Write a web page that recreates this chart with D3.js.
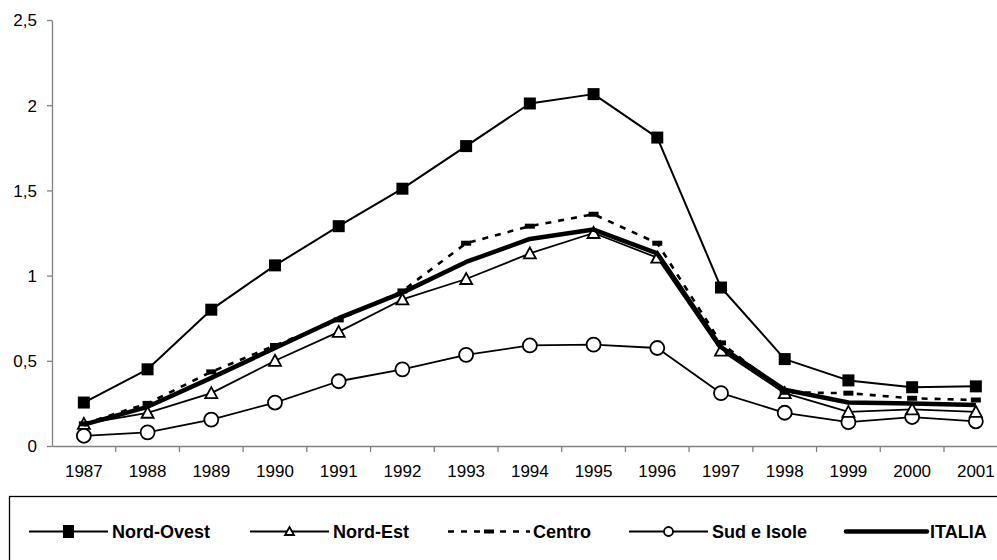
<!DOCTYPE html>
<html><head><meta charset="utf-8">
<script src="https://cdn.jsdelivr.net/npm/d3@7"></script>
<style>body{margin:0;background:#fff}svg{display:block}text{font-family:"Liberation Sans",Arial,sans-serif}</style>
</head><body>
<svg id="c" width="997" height="560"></svg>
<script>
const years = ["1987","1988","1989","1990","1991","1992","1993","1994","1995","1996","1997","1998","1999","2000","2001"];
const nordOvest = [0.255,0.45,0.80,1.06,1.29,1.51,1.76,2.01,2.065,1.81,0.93,0.51,0.385,0.345,0.35];
const nordEst   = [0.13,0.195,0.31,0.50,0.67,0.86,0.98,1.13,1.25,1.105,0.56,0.31,0.20,0.215,0.20];
const centro    = [0.13,0.25,0.435,0.59,0.74,0.91,1.19,1.29,1.36,1.19,0.605,0.315,0.31,0.28,0.27];
const sudIsole  = [0.06,0.08,0.155,0.255,0.38,0.45,0.535,0.59,0.595,0.575,0.31,0.195,0.14,0.17,0.145];
const italia    = [0.125,0.23,0.40,0.575,0.75,0.90,1.08,1.215,1.27,1.13,0.58,0.33,0.255,0.25,0.24];
const yTicks = [0,0.5,1,1.5,2,2.5];
const seriesNames = ["Nord-Ovest","Nord-Est","Centro","Sud e Isole","ITALIA"];

const svg = d3.select("#c");
const x = d3.scaleBand().domain(years).range([52,1007.7]);
const y = d3.scaleLinear().domain([0,2.5]).range([446,20]);
const fmt = d => String(d).replace(".", ",");
const FONT = "'Liberation Sans',Arial,sans-serif";

// axes
const gy = svg.append("g").attr("transform","translate(52,0)")
  .call(d3.axisLeft(y).tickValues(yTicks).tickFormat(fmt).tickSize(5).tickSizeOuter(0));
const gx = svg.append("g").attr("transform","translate(0,446)")
  .call(d3.axisBottom(x).tickSize(0).tickSizeOuter(0));
[gy,gx].forEach(g=>{
  g.attr("font-size",null).attr("font-family",null);
  g.select(".domain").attr("stroke","#808080").attr("stroke-width",1.3);
  g.selectAll(".tick line").attr("stroke","#808080").attr("stroke-width",1.3);
  g.selectAll("text").attr("fill","#000").style("font-size","17px").style("font-family",FONT);
});
gy.selectAll("text").attr("x",-15).attr("dy","0.35em");
gx.selectAll("text").attr("y",31).attr("dy",0);
// x boundary ticks
gx.selectAll(".bt").data(years.slice(1)).enter().append("line")
  .attr("x1",d=>x(d)).attr("x2",d=>x(d)).attr("y1",0).attr("y2",6)
  .attr("stroke","#808080").attr("stroke-width",1.3);

const cx = d => x(d) + x.bandwidth()/2;
const line = d3.line().x((d,i)=>cx(years[i])).y(d=>y(d));

const series = [
  {name:seriesNames[0], data:nordOvest, w:2, dash:null, m:"square"},
  {name:seriesNames[1], data:nordEst, w:1.8, dash:null, m:"triangle"},
  {name:seriesNames[2], data:centro, w:2.6, dash:"6,7", m:"dash"},
  {name:seriesNames[3], data:sudIsole, w:1.8, dash:null, m:"circle"},
  {name:seriesNames[4], data:italia, w:4.5, dash:null, m:null}
];

function marker(g, type, px, py){
  if(type==="square") g.append("rect").attr("x",px-6).attr("y",py-6).attr("width",12).attr("height",12).attr("fill","#000");
  else if(type==="triangle") g.append("path").attr("d",`M${px},${py-6}L${px+6},${py+5}L${px-6},${py+5}Z`).attr("fill","#fff").attr("stroke","#000").attr("stroke-width",1.8);
  else if(type==="circle") g.append("circle").attr("cx",px).attr("cy",py).attr("r",7).attr("fill","#fff").attr("stroke","#000").attr("stroke-width",1.8);
  else if(type==="dash") g.append("rect").attr("x",px-5).attr("y",py-2.5).attr("width",10).attr("height",5).attr("fill","#000");
}

// draw order
const order = [3,1,2,0,4];
order.forEach(k=>{
  const s = series[k];
  const g = svg.append("g");
  g.append("path").attr("d",line(s.data)).attr("fill","none").attr("stroke","#000")
    .attr("stroke-width",s.w).attr("stroke-dasharray",s.dash).attr("stroke-linejoin","round");
  if(s.m) s.data.forEach((v,i)=>marker(g,s.m,cx(years[i]),y(v)));
});

// legend
svg.append("rect").attr("x",9.5).attr("y",496.5).attr("width",1000).attr("height",80)
  .attr("fill","none").attr("stroke","#000").attr("stroke-width",1.3);
const leg = [
  {x0:29,x1:108,tx:112},
  {x0:250,x1:329,tx:333},
  {x0:448,x1:530,tx:533},
  {x0:629,x1:708,tx:712},
  {x0:846,x1:927,tx:930}
];
const ly = 531.5;
series.forEach((s,i)=>{
  const L = leg[i];
  const g = svg.append("g");
  g.append("line").attr("x1",L.x0).attr("x2",L.x1).attr("y1",ly).attr("y2",ly)
    .attr("stroke","#000").attr("stroke-width",s.w).attr("stroke-dasharray",s.dash)
    .attr("stroke-linecap", s.m ? "butt" : "round");
  if(s.m){
    const mx=(L.x0+L.x1)/2;
    if(s.m==="dash") g.append("rect").attr("x",mx-5).attr("y",ly-2).attr("width",10).attr("height",4).attr("fill","#000");
    else if(s.m==="square") g.append("rect").attr("x",mx-5.5).attr("y",ly-6.5).attr("width",11).attr("height",13).attr("fill","#000");
    else if(s.m==="triangle") g.append("path").attr("d",`M${mx},${ly-4.5}L${mx+4.5},${ly+3.5}L${mx-4.5},${ly+3.5}Z`).attr("fill","#fff").attr("stroke","#000").attr("stroke-width",1.8);
    else if(s.m==="circle") g.append("circle").attr("cx",mx).attr("cy",ly).attr("r",4.5).attr("fill","#fff").attr("stroke","#000").attr("stroke-width",1.8);
  }
  g.append("text").attr("x",L.tx).attr("y",ly+6.3).text(s.name)
    .style("font-size","18px").style("font-weight","bold").style("font-family",FONT).attr("fill","#000");
});
</script>
</body></html>
